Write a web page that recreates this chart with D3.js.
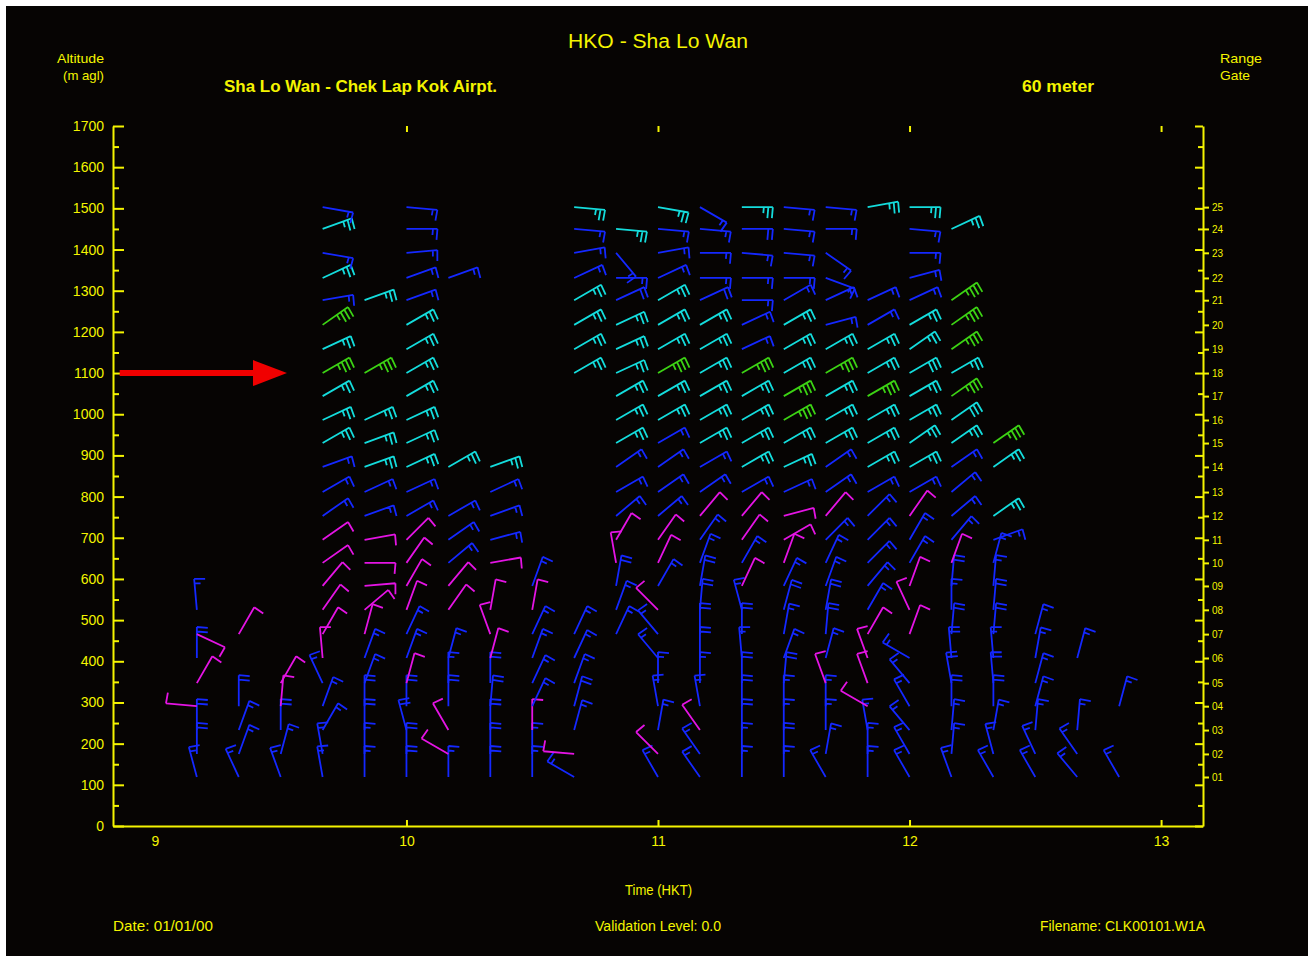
<!DOCTYPE html>
<html>
<head>
<meta charset="utf-8">
<script src="https://d3js.org/d3.v7.min.js"></script>
<style>
  body { margin: 0; background: #ffffff; }
  text { font-family: "Liberation Sans", Arial, sans-serif; }
</style>
</head>
<body>
<div id="chart"></div>
<script>
var _ = null;

// time columns (HKT) and range gates
var times = ["09:10","09:20","09:30","09:40","09:50","10:00","10:10","10:20","10:30","10:40","10:50",
             "11:00","11:10","11:20","11:30","11:40","11:50","12:00","12:10","12:20","12:30","12:40","12:50"];
var gateHeights = [119,175,233,291,347,408,466,525,583,639,695,753,811,872,930,986,1044,1100,1158,1217,1277,1331,1392,1450,1503];
var gateLabels = ["01","02","03","04","05","06","07","08","09","10","11","12","13","14","15","16","17","18","19","20","21","22","23","24","25"];
var altLabels = [0,100,200,300,400,500,600,700,800,900,1000,1100,1200,1300,1400,1500,1600,1700];
var altMinor = [50,150,250,350,450,550,650,750,850,950,1050,1150,1250,1350,1450,1550,1650];
var hourLabels = [9,10,11,12,13];

// wind direction (deg, from) per time column, gates 01..25
var windDir = [
  [345,0,0,275,30,0,115,355,_,_,_,_,_,_,_,_,_,_,_,_,_,_,_,_,_],
  [335,20,20,0,_,_,30,_,_,_,_,_,_,_,_,_,_,_,_,_,_,_,_,_,_],
  [340,15,0,5,30,_,_,_,_,_,_,_,_,_,_,_,_,_,_,_,_,_,_,_,_],
  [350,350,30,20,335,355,30,35,40,55,55,55,60,70,60,65,60,60,65,55,80,65,100,70,100],
  [0,0,0,0,20,20,15,50,85,90,80,70,65,70,70,65,_,60,_,_,70,_,_,_,_],
  [0,0,345,0,15,20,25,20,30,35,45,60,65,65,65,65,60,60,60,60,70,70,85,90,95],
  [0,300,330,0,0,15,_,35,40,50,55,60,_,60,_,_,_,_,_,_,_,70,_,_,_],
  [0,0,0,5,0,15,340,10,_,80,75,70,65,70,_,_,_,_,_,_,_,_,_,_,_],
  [0,0,0,25,25,20,25,10,20,_,_,_,_,_,_,_,_,_,_,_,_,_,_,_,_],
  [300,275,15,15,20,25,25,_,_,_,_,_,_,_,_,_,_,60,60,60,60,65,80,95,95],
  [_,_,_,_,_,_,25,20,10,350,30,50,60,55,60,60,60,65,65,65,65,90,140,95,_],
  [330,315,10,350,0,320,320,315,30,25,35,50,55,55,60,60,60,60,60,60,60,65,80,95,100],
  [325,325,325,350,0,0,0,5,10,20,35,40,55,60,60,60,60,60,60,60,65,90,90,95,120],
  [0,0,0,0,0,355,0,345,25,30,35,40,60,60,60,60,60,60,65,65,90,90,95,90,90],
  [0,0,0,0,5,20,10,15,25,20,60,75,65,65,60,60,60,60,60,60,60,90,95,95,95],
  [330,10,0,0,340,15,5,10,20,25,45,40,55,55,60,60,60,60,60,75,65,110,125,90,95],
  [0,0,350,300,340,340,30,30,40,45,45,45,60,60,60,60,60,60,60,60,65,_,_,_,80],
  [330,330,320,330,320,300,20,335,20,30,30,35,60,60,55,60,60,60,55,60,65,75,90,95,90],
  [340,5,5,0,350,355,5,0,5,20,40,50,50,55,55,55,55,60,55,55,55,_,_,65,_],
  [330,345,10,0,355,355,5,5,5,15,70,55,_,55,55,_,_,_,_,_,_,_,_,_,_],
  [330,335,5,15,15,10,15,_,_,_,_,_,_,_,_,_,_,_,_,_,_,_,_,_,_],
  [320,325,5,_,_,15,_,_,_,_,_,_,_,_,_,_,_,_,_,_,_,_,_,_,_],
  [330,_,_,15,_,_,_,_,_,_,_,_,_,_,_,_,_,_,_,_,_,_,_,_,_]
];

// wind speed (knots) per time column, gates 01..25
var windSpd = [
  [15,20,20,10,10,20,10,15,_,_,_,_,_,_,_,_,_,_,_,_,_,_,_,_,_],
  [15,15,15,20,_,_,10,_,_,_,_,_,_,_,_,_,_,_,_,_,_,_,_,_,_],
  [15,15,20,10,10,_,_,_,_,_,_,_,_,_,_,_,_,_,_,_,_,_,_,_,_],
  [15,15,15,15,15,10,10,10,10,10,10,15,15,15,25,25,25,35,25,35,15,25,15,25,15],
  [15,15,20,20,15,15,10,10,10,10,10,15,15,25,25,25,_,35,_,_,25,_,_,_,_],
  [20,20,20,20,10,15,15,10,10,10,10,15,15,25,25,25,25,25,25,25,15,15,15,15,15],
  [15,10,10,20,15,15,_,10,10,15,15,15,_,25,_,_,_,_,_,_,_,15,_,_,_],
  [20,20,20,20,20,10,10,10,_,10,15,15,15,25,_,_,_,_,_,_,_,_,_,_,_],
  [15,15,10,15,15,15,15,10,15,_,_,_,_,_,_,_,_,_,_,_,_,_,_,_,_],
  [15,10,15,20,15,15,15,_,_,_,_,_,_,_,_,_,_,25,25,25,25,15,15,15,25],
  [_,_,_,_,_,_,15,15,20,10,10,15,15,15,25,25,25,25,25,25,20,15,15,25,_],
  [15,10,15,15,15,15,15,10,15,10,10,15,15,15,15,25,25,35,25,25,25,15,15,15,25],
  [15,15,10,15,15,20,20,20,20,15,15,10,15,15,25,25,25,25,25,25,20,15,15,15,15],
  [15,15,20,20,20,15,20,15,10,15,10,10,15,25,25,25,25,35,15,15,15,15,15,20,25],
  [15,20,15,15,20,15,15,20,15,10,10,10,15,25,25,35,35,25,25,25,15,15,15,15,15],
  [15,15,15,15,10,15,20,20,15,15,15,10,15,15,25,25,25,35,25,15,15,15,15,15,15],
  [15,15,15,10,10,10,10,15,15,15,15,15,15,25,25,25,35,25,25,15,15,_,_,_,25],
  [15,15,15,15,15,15,10,10,10,15,15,10,15,25,25,25,25,30,25,25,15,15,15,15,25],
  [15,15,15,20,20,20,20,15,20,10,15,15,15,15,25,30,35,25,35,35,35,_,_,25,_],
  [15,15,15,20,20,15,20,20,15,15,15,25,_,25,35,_,_,_,_,_,_,_,_,_,_],
  [15,15,15,15,15,15,15,_,_,_,_,_,_,_,_,_,_,_,_,_,_,_,_,_,_],
  [15,15,15,_,_,15,_,_,_,_,_,_,_,_,_,_,_,_,_,_,_,_,_,_,_],
  [15,_,_,15,_,_,_,_,_,_,_,_,_,_,_,_,_,_,_,_,_,_,_,_,_]
];

// red annotation arrow (hours, metres)
var arrowFrom = 8.86, arrowTo = 9.525, arrowAlt = 1100;

var W = 1313, H = 961;
var yellow = "#f4f400";
var staffLen = 31, featherLen = 11, featherGap = 4.5;

var svg = d3.select("#chart")
  .append("svg")
    .attr("width", W)
    .attr("height", H);

// black plotting sheet
svg.append("rect")
  .attr("x", 6).attr("y", 6)
  .attr("width", 1302).attr("height", 950)
  .attr("fill", "#060403");

var x = d3.scaleLinear()
  .domain([8 + 50 / 60, 13 + 10 / 60])
  .range([113, 1203]);

var y = d3.scaleLinear()
  .domain([0, 1700])
  .range([826, 126]);

function styleAxis(g, size) {
  g.selectAll("path, line").attr("stroke", yellow).attr("stroke-width", 2);
  g.selectAll("text").attr("fill", yellow).attr("font-size", size)
    .attr("font-family", "'Liberation Sans', Arial, sans-serif");
}

// left altitude axis (ticks point inward)
var gl = svg.append("g")
  .attr("transform", "translate(113,0)")
  .call(d3.axisLeft(y).tickValues(altLabels).tickFormat(d3.format("d"))
    .tickSizeInner(-11).tickSizeOuter(0).tickPadding(9));
styleAxis(gl, 14);
var glm = svg.append("g")
  .attr("transform", "translate(113,0)")
  .call(d3.axisLeft(y).tickValues(altMinor).tickSizeInner(-6).tickSizeOuter(0).tickFormat(""));
styleAxis(glm, 14);
glm.select(".domain").remove();

// bottom time axis
var gb = svg.append("g")
  .attr("transform", "translate(0,826)")
  .call(d3.axisBottom(x).tickValues(hourLabels).tickFormat(d3.format("d"))
    .tickSizeInner(-6).tickSizeOuter(0).tickPadding(10));
styleAxis(gb, 14);
gb.selectAll(".tick line").filter(function(d) { return d === 9; }).remove();

// top ticks only
var gt = svg.append("g")
  .attr("transform", "translate(0,126)")
  .call(d3.axisTop(x).tickValues(hourLabels.slice(1)).tickSizeInner(-6).tickSizeOuter(0).tickFormat(""));
styleAxis(gt, 14);
gt.select(".domain").remove();

// right axis: altitude ticks inward, range gates outward
var gr = svg.append("g")
  .attr("transform", "translate(1203,0)")
  .call(d3.axisRight(y).tickValues(altLabels).tickSizeInner(-8).tickSizeOuter(0).tickFormat(""));
styleAxis(gr, 10);
var grm = svg.append("g")
  .attr("transform", "translate(1203,0)")
  .call(d3.axisRight(y).tickValues(altMinor).tickSizeInner(-5).tickSizeOuter(0).tickFormat(""));
styleAxis(grm, 10);
grm.select(".domain").remove();
var gg = svg.append("g")
  .attr("transform", "translate(1203,0)")
  .call(d3.axisRight(y).tickValues(gateHeights).tickSizeInner(6).tickSizeOuter(0).tickPadding(3)
    .tickFormat(function(d, i) { return gateLabels[i]; }));
styleAxis(gg, 10);
gg.select(".domain").remove();

// texts
function label(txt, tx, ty, size, len, weight) {
  var t = svg.append("text")
    .attr("x", tx).attr("y", ty)
    .attr("fill", yellow)
    .attr("font-size", size)
    .attr("font-weight", weight || "normal")
    .text(txt);
  if (len) t.attr("textLength", len).attr("lengthAdjust", "spacingAndGlyphs");
  return t;
}
label("HKO - Sha Lo Wan", 568, 48, 20, 180);
label("Altitude", 57, 63, 13, 47);
label("(m agl)", 63, 80, 13, 41);
label("Sha Lo Wan - Chek Lap Kok Airpt.", 224, 92, 16, 273, "bold");
label("60 meter", 1022, 92, 16, 72, "bold");
label("Range", 1220, 63, 13, 42);
label("Gate", 1220, 80, 13, 30);
label("Time (HKT)", 625, 895, 14, 67);
label("Date: 01/01/00", 113, 931, 14, 100);
label("Validation Level: 0.0", 595, 931, 14, 126);
label("Filename: CLK00101.W1A", 1040, 931, 14, 165);

// wind barbs
function hours(s) {
  var p = s.split(":");
  return +p[0] + (+p[1]) / 60;
}

function barbColor(s) {
  if (s < 12.5) return "#e414e4";
  if (s < 22.5) return "#1428ff";
  if (s < 32.5) return "#14dcdc";
  return "#3cd214";
}

function barbPath(px, py, dir, spd) {
  var a = dir * Math.PI / 180;
  var ux = Math.sin(a), uy = -Math.cos(a);
  var b = (dir + 95) * Math.PI / 180;
  var vx = Math.sin(b), vy = -Math.cos(b);
  var tx = px + staffLen * ux, ty = py + staffLen * uy;
  var p = d3.path();
  p.moveTo(px, py);
  p.lineTo(tx, ty);
  var full = Math.floor(spd / 10);
  var half = Math.floor((spd % 10) / 5);
  var k = 0;
  for (var i = 0; i < full; i++, k++) {
    var sx = tx - k * featherGap * ux, sy = ty - k * featherGap * uy;
    p.moveTo(sx, sy);
    p.lineTo(sx + featherLen * vx, sy + featherLen * vy);
  }
  if (half) {
    var hx = tx - k * featherGap * ux, hy = ty - k * featherGap * uy;
    p.moveTo(hx, hy);
    p.lineTo(hx + featherLen * 0.55 * vx, hy + featherLen * 0.55 * vy);
  }
  return p.toString();
}

var obs = [];
times.forEach(function(t, i) {
  gateHeights.forEach(function(h, j) {
    if (windDir[i][j] !== null) {
      obs.push({ t: hours(t), h: h, dir: windDir[i][j], spd: windSpd[i][j] });
    }
  });
});

svg.append("g").selectAll("path")
  .data(obs)
  .enter()
  .append("path")
    .attr("fill", "none")
    .attr("stroke", function(d) { return barbColor(d.spd); })
    .attr("stroke-width", 1.8)
    .attr("d", function(d) { return barbPath(x(d.t), y(d.h), d.dir, d.spd); });

// red arrow pointing at 1100 m
var ax0 = x(arrowFrom), ax1 = x(arrowTo), ay = y(arrowAlt);
svg.append("line")
  .attr("x1", ax0).attr("y1", ay)
  .attr("x2", ax1 - 30).attr("y2", ay)
  .attr("stroke", "#f00000")
  .attr("stroke-width", 6);
svg.append("path")
  .attr("d", "M" + ax1 + "," + ay + "L" + (ax1 - 34) + "," + (ay - 13) + "L" + (ax1 - 34) + "," + (ay + 13) + "Z")
  .attr("fill", "#f00000");
</script>
</body>
</html>
